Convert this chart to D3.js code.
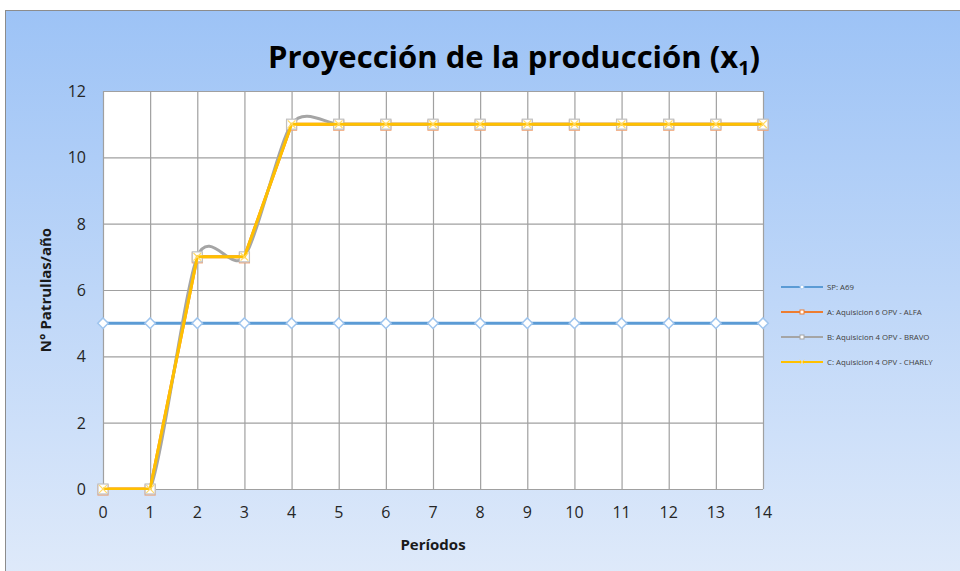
<!DOCTYPE html>
<html>
<head>
<meta charset="utf-8">
<script src="https://d3js.org/d3.v7.min.js"></script>
<style>
  body { margin: 0; background: #fff; }
  text { font-family: "Open Sans", "Noto Sans", sans-serif; }
</style>
</head>
<body>
<svg id="chart" width="960" height="571"></svg>
<script>
// data
const periods = [0,1,2,3,4,5,6,7,8,9,10,11,12,13,14];
const spA69   = [5,5,5,5,5,5,5,5,5,5,5,5,5,5,5];
const alfa    = [0,0,7,7,11,11,11,11,11,11,11,11,11,11,11];
const bravo   = [0,0,7,7,11,11,11,11,11,11,11,11,11,11,11];
const charly  = [0,0,7,7,11,11,11,11,11,11,11,11,11,11,11];
const yTicks  = [0,2,4,6,8,10,12];
const seriesNames = ["SP: A69", "A: Aquisicion 6 OPV - ALFA", "B: Aquisicion 4 OPV - BRAVO", "C: Aquisicion 4 OPV - CHARLY"];

const svg = d3.select("#chart");

// background gradient
const defs = svg.append("defs");
const grad = defs.append("linearGradient").attr("id", "bg").attr("x1", 0).attr("y1", 0).attr("x2", 0).attr("y2", 1);
grad.append("stop").attr("offset", "0%").attr("stop-color", "#9dc3f6");
grad.append("stop").attr("offset", "100%").attr("stop-color", "#dfeafa");

svg.append("rect")
  .attr("x", 5.5).attr("y", 10.5).attr("width", 960).attr("height", 570)
  .attr("fill", "url(#bg)").attr("stroke", "#8c8c8c").attr("stroke-width", 1);

const pLeft = 103, pRight = 763, pTop = 91, pBottom = 489;

let x = d3.scaleLinear().domain([0, 14]).range([pLeft, pRight]);
let y = d3.scaleLinear().domain([0, 12]).range([pBottom, pTop]);

// lines are clipped to the plot area (markers are not)
defs.append("clipPath").attr("id", "plotclip").append("rect")
  .attr("x", pLeft).attr("y", pTop).attr("width", pRight - pLeft).attr("height", pBottom - pTop + 1);

// plot area
svg.append("rect")
  .attr("x", pLeft).attr("y", pTop).attr("width", pRight - pLeft).attr("height", pBottom - pTop)
  .attr("fill", "#fff");

// grid
svg.append("g").selectAll("line").data(periods).enter().append("line")
  .attr("x1", d => x(d) + 0.5).attr("x2", d => x(d) + 0.5)
  .attr("y1", pTop).attr("y2", pBottom)
  .attr("stroke", "#a0a0a0").attr("stroke-width", 1.2);
svg.append("g").selectAll("line").data(yTicks).enter().append("line")
  .attr("x1", pLeft).attr("x2", pRight)
  .attr("y1", d => y(d) + 0.5).attr("y2", d => y(d) + 0.5)
  .attr("stroke", "#a0a0a0").attr("stroke-width", 1.2);

// tick labels
svg.append("g").selectAll("text").data(yTicks).enter().append("text")
  .attr("x", 86).attr("y", d => y(d) + 6)
  .attr("text-anchor", "end").attr("font-size", 16).attr("fill", "#262626")
  .text(d => d);
svg.append("g").selectAll("text").data(periods).enter().append("text")
  .attr("x", d => x(d)).attr("y", 518)
  .attr("text-anchor", "middle").attr("font-size", 16).attr("fill", "#262626")
  .text(d => d);

// axis titles
svg.append("text")
  .attr("x", 433).attr("y", 550).attr("text-anchor", "middle")
  .attr("font-size", 15).attr("font-weight", "bold").attr("fill", "#1a1a1a")
  .text("Períodos");
svg.append("text")
  .attr("transform", "translate(51,290) rotate(-90)").attr("text-anchor", "middle")
  .attr("font-size", 15).attr("font-weight", "bold").attr("fill", "#1a1a1a")
  .text("N° Patrullas/año");

// title
const title = svg.append("text")
  .attr("x", 268).attr("y", 68)
  .attr("font-size", 31).attr("font-weight", "bold").attr("fill", "#000");
title.append("tspan").text("Proyección de la producción (x");
title.append("tspan").attr("font-size", 20).attr("dy", 7).text("1");
title.append("tspan").attr("dy", -7).text(")");

const straight = d3.line().x((d, i) => x(periods[i])).y(d => y(d));
const smooth = d3.line().x((d, i) => x(periods[i])).y(d => y(d)).curve(d3.curveCardinal.tension(0.2));

const lines = svg.append("g").attr("clip-path", "url(#plotclip)");

// SP: A69
lines.append("path").datum(spA69).attr("d", straight)
  .attr("fill", "none").attr("stroke", "#5b9bd5").attr("stroke-width", 3);
svg.append("g").selectAll("path").data(spA69).enter().append("path")
  .attr("d", d3.symbol(d3.symbolDiamond2, 70))
  .attr("transform", (d, i) => `translate(${x(periods[i])},${y(d)})`)
  .attr("fill", "#fff").attr("stroke", "#9fc5ee").attr("stroke-width", 1.5);

// A: ALFA
const lines2 = svg.append("g").attr("clip-path", "url(#plotclip)");
lines2.append("path").datum(alfa).attr("d", straight)
  .attr("fill", "none").attr("stroke", "#ed7d31").attr("stroke-width", 3);
svg.append("g").selectAll("rect").data(alfa).enter().append("rect")
  .attr("x", (d, i) => x(periods[i]) - 5).attr("y", d => y(d) - 4)
  .attr("width", 10).attr("height", 10)
  .attr("fill", "#fff").attr("stroke", "#f0a070").attr("stroke-width", 1.2);

// B: BRAVO (smoothed)
const lines3 = svg.append("g").attr("clip-path", "url(#plotclip)");
lines3.append("path").datum(bravo).attr("d", smooth)
  .attr("fill", "none").attr("stroke", "#a5a5a5").attr("stroke-width", 3);
svg.append("g").selectAll("rect").data(bravo).enter().append("rect")
  .attr("x", (d, i) => x(periods[i]) - 5).attr("y", d => y(d) - 5)
  .attr("width", 10).attr("height", 10)
  .attr("fill", "#fff").attr("stroke", "#c0c0c0").attr("stroke-width", 1.2);

// C: CHARLY
const lines4 = svg.append("g").attr("clip-path", "url(#plotclip)");
lines4.append("path").datum(charly).attr("d", straight)
  .attr("fill", "none").attr("stroke", "#ffc000").attr("stroke-width", 3);
svg.append("g").selectAll("path").data(charly).enter().append("path")
  .attr("d", d3.symbol(d3.symbolX, 40))
  .attr("transform", (d, i) => `translate(${x(periods[i])},${y(d)})`)
  .attr("fill", "none").attr("stroke", "#ffd966").attr("stroke-width", 1.2);

// legend
const legColors = ["#5b9bd5", "#ed7d31", "#a5a5a5", "#ffc000"];
const leg = svg.append("g").selectAll("g").data(seriesNames).enter().append("g")
  .attr("transform", (d, i) => `translate(781,${287 + i * 25})`);
leg.append("line").attr("x1", 0).attr("x2", 42).attr("y1", 0).attr("y2", 0)
  .attr("stroke", (d, i) => legColors[i]).attr("stroke-width", 2);
leg.filter((d, i) => i === 0).append("path")
  .attr("transform", "translate(21,0)").attr("d", d3.symbol(d3.symbolDiamond2, 14))
  .attr("fill", "#fff").attr("stroke", "#9fc5ee");
leg.filter((d, i) => i === 1 || i === 2).append("rect")
  .attr("x", 19).attr("y", -2).attr("width", 4).attr("height", 4)
  .attr("fill", "#fff").attr("stroke", (d, i) => i === 0 ? "#ed7d31" : "#a5a5a5").attr("stroke-width", 1);
leg.filter((d, i) => i === 3).append("path")
  .attr("transform", "translate(21,0)").attr("d", d3.symbol(d3.symbolX, 14))
  .attr("fill", "none").attr("stroke", "#ffd966");
leg.append("text").attr("x", 46).attr("y", 3)
  .attr("font-size", 7.8).attr("fill", "#404040")
  .text(d => d);
</script>
</body>
</html>
